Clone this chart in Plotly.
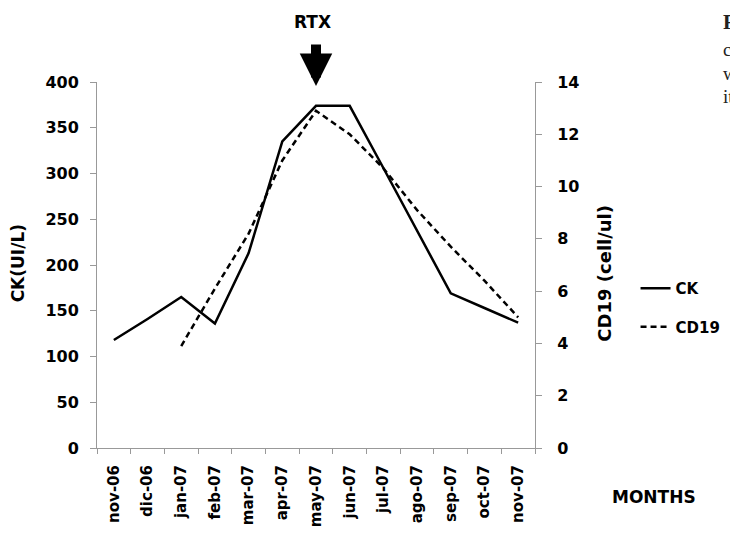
import plotly.graph_objects as go

months = ["nov-06", "dic-06", "jan-07", "feb-07", "mar-07", "apr-07", "may-07",
          "jun-07", "jul-07", "ago-07", "sep-07", "oct-07", "nov-07"]
ck = [118, 141, 165, 136, 213, 335, 374, 374, 306, 237, 169, 153, 137]
cd19_months = ["jan-07", "feb-07", "mar-07", "apr-07", "may-07", "jun-07",
               "jul-07", "ago-07", "sep-07", "oct-07", "nov-07"]
cd19 = [3.9, 6.1, 8.2, 11.0, 12.9, 12.0, 10.7, 9.1, 7.7, 6.4, 5.0]
ck_ticks = [0, 50, 100, 150, 200, 250, 300, 350, 400]
cd19_ticks = [0, 2, 4, 6, 8, 10, 12, 14]

FONT = "DejaVu Sans"
# plot area in page pixels (page has an 8px body margin)
PL, PR, PT, PB = 97, 537, 82, 448
PW, PH = PR - PL, PB - PT


def px(xp):
    return (xp - PL) / PW


def py(yp):
    return (PB - yp) / PH


fig = go.Figure()
fig.add_trace(go.Scatter(x=months, y=ck, mode="lines", name="CK",
                         line=dict(color="black", width=2.5),
                         legendgroup="a"))
fig.add_trace(go.Scatter(x=cd19_months, y=cd19, mode="lines", name="CD19",
                         line=dict(color="black", width=2.5, dash="6px,4px"),
                         yaxis="y2", legendgroup="b"))

tick_font = dict(family=FONT, size=16, color="black", weight="bold")
fig.update_layout(
    width=730, height=526,
    margin=dict(l=PL - 8, r=738 - PR, t=PT - 8, b=534 - PB),
    paper_bgcolor="white", plot_bgcolor="white",
    font=dict(family=FONT, color="black"),
    showlegend=True,
    legend=dict(x=px(638), y=py(272), xanchor="left", yanchor="top",
                font=dict(family=FONT, size=15, color="black", weight="bold"),
                tracegroupgap=16, bgcolor="rgba(0,0,0,0)"),
    xaxis=dict(type="category", categoryorder="array", categoryarray=months,
               range=[-0.5, 12.5], showline=True, linecolor="#999999",
               linewidth=1, ticks="outside", tickson="boundaries", ticklen=5,
               tickcolor="#999999", tickangle=-90, showgrid=False,
               ticklabelstandoff=10, automargin=False,
               tickfont=dict(family=FONT, size=15, color="black", weight="bold")),
    yaxis=dict(range=[0, 400], tickvals=ck_ticks, showline=True,
               linecolor="#999999", ticks="outside", ticklen=6,
               tickcolor="#999999", showgrid=False, zeroline=False,
               automargin=False, ticklabelstandoff=8, tickfont=tick_font),
    yaxis2=dict(range=[0, 14], tickvals=cd19_ticks, overlaying="y", side="right",
                showline=True, linecolor="#999999", ticks="outside", ticklen=6,
                tickcolor="#999999", showgrid=False, zeroline=False,
                automargin=False, ticklabelstandoff=12, tickfont=tick_font),
)

# axis titles
fig.add_annotation(x=px(18), y=py(263), xref="paper", yref="paper",
                   text="<b>CK(UI/L)</b>", textangle=-90, showarrow=False,
                   xanchor="center", yanchor="middle",
                   font=dict(family=FONT, size=17, color="black"))
fig.add_annotation(x=px(606), y=py(273), xref="paper", yref="paper",
                   text="<b>CD19 (cell/ul)</b>", textangle=-90, showarrow=False,
                   xanchor="center", yanchor="middle",
                   font=dict(family=FONT, size=18, color="black"))
fig.add_annotation(x=px(612), y=py(497), xref="paper", yref="paper",
                   xanchor="left", yanchor="middle", text="<b>MONTHS</b>",
                   showarrow=False, font=dict(family=FONT, size=17, color="black"))

# RTX marker
fig.add_annotation(x="may-07", y=py(86), xref="x", yref="paper",
                   text="", showarrow=True, ax=0, ay=-43, arrowhead=2,
                   arrowsize=0.65, arrowwidth=10, arrowcolor="black",
                   standoff=0)
fig.add_annotation(x="may-07", y=py(22), xref="x", yref="paper",
                   yanchor="middle", xshift=-4, text="<b>RTX</b>",
                   showarrow=False,
                   font=dict(family=FONT, size=17, color="black"))

# clipped caption fragment at the right edge
for txt, yc, sz in [("<b>F</b>", 22, 21), ("c", 50, 19), ("w", 74, 19),
                    ("it", 96, 19)]:
    fig.add_annotation(x=px(724), y=py(yc), xref="paper", yref="paper",
                       text=txt, showarrow=False, xanchor="left",
                       yanchor="middle",
                       font=dict(family="Liberation Serif", size=sz,
                                 color="#222222"))

fig.write_html("out.html")
